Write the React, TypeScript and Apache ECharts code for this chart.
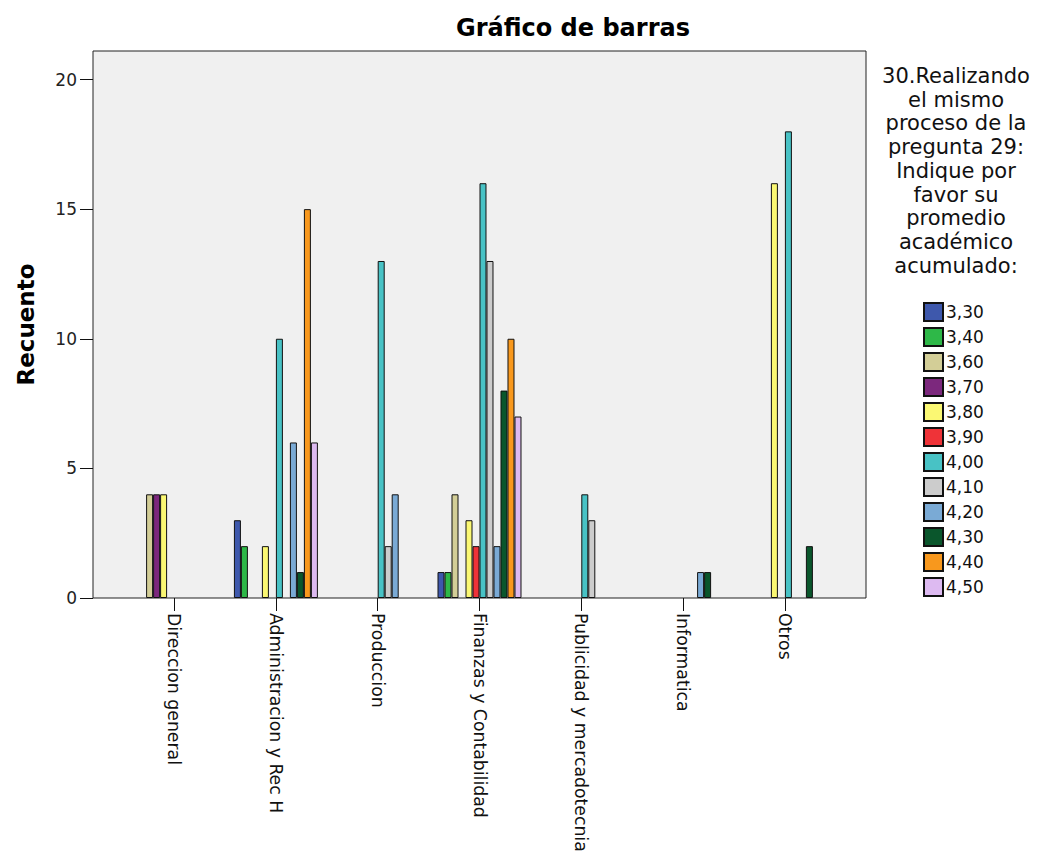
import React, { useEffect, useRef } from "react";
import * as echarts from "echarts";

const categories = [
  "Direccion general",
  "Administracion y Rec H",
  "Produccion",
  "Finanzas y Contabilidad",
  "Publicidad y mercadotecnia",
  "Informatica",
  "Otros",
];

const yTicks = [0, 5, 10, 15, 20];

const s330 = [null, 3, null, 1, null, null, null];
const s340 = [null, 2, null, 1, null, null, null];
const s360 = [4, null, null, 4, null, null, null];
const s370 = [4, null, null, null, null, null, null];
const s380 = [4, 2, null, 3, null, null, 16];
const s390 = [null, null, null, 2, null, null, null];
const s400 = [null, 10, 13, 16, 4, null, 18];
const s410 = [null, null, 2, 13, 3, null, null];
const s420 = [null, 6, 4, 2, null, 1, null];
const s430 = [null, 1, null, 8, null, 1, 2];
const s440 = [null, 15, null, 10, null, null, null];
const s450 = [null, 6, null, 7, null, null, null];

const seriesNames = ["3,30", "3,40", "3,60", "3,70", "3,80", "3,90", "4,00", "4,10", "4,20", "4,30", "4,40", "4,50"];
const seriesData = [s330, s340, s360, s370, s380, s390, s400, s410, s420, s430, s440, s450];
const seriesColors = [
  "#3E58AC", "#2EB848", "#D3CE97", "#7C287D", "#FBF873", "#EF3338",
  "#48C2C5", "#CCCCCC", "#7AAAD5", "#0A562C", "#F8981D", "#DDBAF1",
];

const titleText = "Gráfico de barras";
const yName = "Recuento";
const legendTitle = "30.Realizando\nel mismo\nproceso de la\npregunta 29:\nIndique por\nfavor su\npromedio\nacadémico\nacumulado:";

const FONT = "DejaVu Sans";

export default function App() {
  const ref = useRef<HTMLDivElement>(null);
  useEffect(() => {
    document.body.style.margin = "0";
    const chart = echarts.init(ref.current!, null, { renderer: "svg" });
    const yMax = 21.1;
    const frameL = 93, frameT = 51, frameW = 773, frameH = 547;
    const catW = 101.8;
    const innerW = catW * categories.length;
    const innerL = frameL + (frameW - innerW) / 2;
    chart.setOption({
      animation: false,
      textStyle: { fontFamily: FONT },
      graphic: [
        {
          type: "text",
          x: 573,
          y: 28,
          style: {
            text: titleText,
            font: `bold 24px '${FONT}'`,
            fill: "#000",
            textAlign: "center",
            textVerticalAlign: "middle",
          },
        },
        {
          type: "text",
          x: 956,
          y: 64,
          style: {
            text: legendTitle,
            font: `21px '${FONT}'`,
            fill: "#111",
            textAlign: "center",
            textVerticalAlign: "top",
            lineHeight: 23.75,
          },
        },
      ],
      legend: {
        orient: "vertical",
        left: 923,
        top: 302,
        itemWidth: 19,
        itemHeight: 18,
        itemGap: 5,
        icon: "rect",
        padding: 0,
        textStyle: { fontSize: 17, color: "#111", fontFamily: FONT, lineHeight: 18, padding: [0, 0, 0, -2] },
        data: seriesNames,
      },
      grid: [
        {
          left: frameL,
          top: frameT,
          width: frameW,
          height: frameH,
          show: true,
          backgroundColor: "#F0F0F0",
          borderColor: "#222",
          borderWidth: 1,
          containLabel: false,
          outerBoundsMode: "none",
        },
        {
          left: innerL,
          top: frameT,
          width: innerW,
          height: frameH,
          containLabel: false,
          outerBoundsMode: "none",
        },
      ],
      xAxis: [
        { gridIndex: 0, type: "value", show: false, min: 0, max: 1 },
        {
          gridIndex: 1,
          type: "category",
          data: categories,
          axisLine: { show: false },
          axisTick: { show: true, alignWithLabel: true, length: 13, lineStyle: { color: "#111", width: 1 } },
          axisLabel: { rotate: -90, margin: 15, fontSize: 17.3, color: "#111", fontFamily: FONT },
          splitLine: { show: false },
        },
      ],
      yAxis: [
        {
          gridIndex: 0,
          type: "value",
          min: 0,
          max: yMax,
          name: yName,
          nameLocation: "middle",
          nameRotate: 90,
          nameGap: 56,
          nameTextStyle: { fontSize: 23, fontWeight: "bold", color: "#000", fontFamily: FONT },
          axisLine: { show: false },
          axisTick: { show: true, length: 13, customValues: yTicks, lineStyle: { color: "#111", width: 1 } },
          axisLabel: { customValues: yTicks, margin: 16, fontSize: 17, color: "#222", fontFamily: FONT },
          splitLine: { show: false },
        },
        { gridIndex: 1, type: "value", min: 0, max: yMax, show: false },
      ],
      series: seriesNames.map((name, i) => ({
        name,
        type: "bar",
        xAxisIndex: 1,
        yAxisIndex: 1,
        data: seriesData[i],
        barGap: "0%",
        barCategoryGap: "17.5%",
        itemStyle: { color: seriesColors[i], borderColor: "#111", borderWidth: 1 },
      })),
    });
    return () => chart.dispose();
  }, []);
  return <div ref={ref} style={{ width: 1037, height: 855 }} />;
}
